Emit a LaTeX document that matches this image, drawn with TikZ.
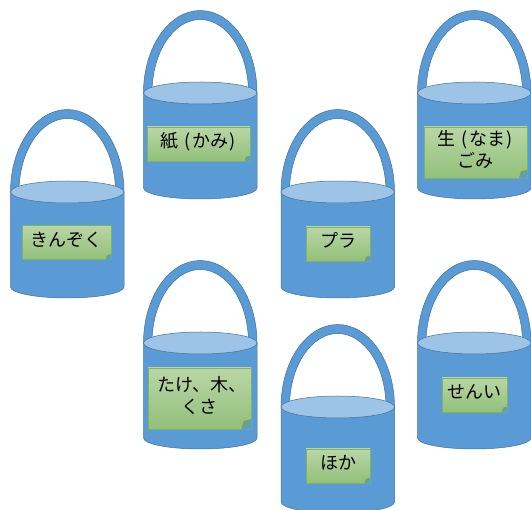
\documentclass[tikz,border=0pt]{standalone}
\usepackage{fontspec}
\setmainfont{Noto Sans CJK JP}
\usetikzlibrary{calc}
\definecolor{bluebody}{HTML}{5B9BD5}
\definecolor{blueedge}{HTML}{41719C}
\definecolor{bluetop}{HTML}{9DC3E6}
\definecolor{notetop}{HTML}{B9D6A6}
\definecolor{notebot}{HTML}{92C07A}
\definecolor{noteedge}{HTML}{7FB35F}
\definecolor{notefold}{HTML}{76A05C}
\tikzset{
  x=1pt,y=-1pt,
  bucketpart/.style={draw=blueedge,line width=.5pt,fill=bluebody},
  bucketrim/.style={draw=blueedge,line width=.5pt,fill=bluetop},
  notebox/.style={rectangle,draw=noteedge,line width=.6pt,top color=notetop,bottom color=notebot,
    inner sep=0pt,font=\fontsize{18}{22}\selectfont,align=center,text=black}
}
\newcommand{\pl}{\kern6.5pt(\kern1.5pt}
\newcommand{\pr}{\kern1.5pt)\kern1pt}
% #1 left x, #2 rim centre y
\newcommand{\drawbucket}[2]{%
  \path[bucketpart] (#1,#2) arc[start angle=180,end angle=0,x radius=56.75,y radius=-82.5]
    -- ++(-8.5,0) arc[start angle=0,end angle=180,x radius=48.25,y radius=-73.5] -- cycle;
  \path[bucketpart] (#1,#2) -- ++(0,95) arc[start angle=180,end angle=360,x radius=56.75,y radius=-11]
    -- ++(0,-95) -- cycle;
  \path[bucketrim] (#1+56.75,#2) ellipse[x radius=56.75,y radius=11];
}
% #1 name, #2 centre x, #3 centre y, #4 width, #5 height (plain numbers), #6 text
\newcommand{\drawnote}[6]{%
  \node[notebox,minimum width=#4pt,minimum height=#5pt] (#1) at (#2,#3)
    {\raisebox{0.5pt}[\height][\depth]{\begin{tabular}{@{}c@{}}#6\end{tabular}}};
  \pgfmathsetmacro{\foldsize}{#5/6}
  \fill[bluebody] (#1.south east) -- ++(-\foldsize,0) -- ++(\foldsize,-\foldsize) -- cycle;
  \fill[notefold] ($(#1.south east)+(-\foldsize,0)$) -- ++(0.25*\foldsize,-0.8*\foldsize) -- ++(0.75*\foldsize,-0.2*\foldsize) -- cycle;
}
\begin{document}
\begin{tikzpicture}
\useasboundingbox (0,0) rectangle (531,510);
\clip (0,0) rectangle (531,510);
\drawbucket{10.5}{192}
\drawbucket{143.5}{93}
\drawbucket{281}{192}
\drawbucket{417.5}{93}
\drawbucket{143.5}{343}
\drawbucket{417.5}{343}
\drawbucket{281}{407}
\drawnote{kinzoku}{66.5}{242.5}{89}{34}{きんぞく}
\drawnote{kami}{198.5}{144}{103}{34}{紙\pl かみ\pr}
\drawnote{pura}{338}{244}{64}{34}{プラ}
\drawnote{namagomi}{475.5}{152.5}{103}{51}{生\pl なま\pr\\ごみ}
\drawnote{takeki}{199.5}{398.5}{103}{61}{\kern5pt たけ、木、\\くさ}
\drawnote{hoka}{338}{466}{64}{34}{ほか}
\drawnote{senni}{474.5}{395}{65}{34}{せんい}
\end{tikzpicture}
\end{document}
